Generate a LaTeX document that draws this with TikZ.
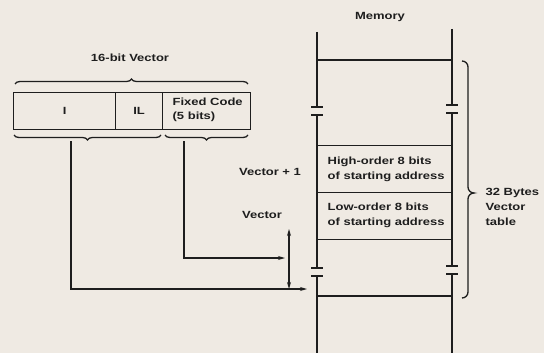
\documentclass[tikz,border=0pt]{standalone}
\usepackage{fontspec}
\setmainfont[FakeStretch=1.25]{Liberation Sans}
\usetikzlibrary{decorations.pathreplacing,arrows.meta}
\definecolor{bg}{HTML}{EFEAE3}
\definecolor{ink}{HTML}{1E1E1E}
\begin{document}
\begin{tikzpicture}[x=1pt,y=-1pt,line width=1.3pt,draw=ink,text=ink,
  font=\fontsize{10.4}{15}\selectfont\bfseries,
  field/.style={draw,rectangle,minimum height=37pt,inner sep=0pt,anchor=north west},
  cell/.style={draw,rectangle,minimum width=135pt,minimum height=47pt,inner sep=0pt,anchor=north west},
  celltext/.style={inner sep=0pt,align=left,anchor=west},
  lbl/.style={inner sep=0pt},
  brc/.style={decorate,decoration={brace,amplitude=5pt}},
  arr/.style={-{Stealth[length=7pt,width=4pt]}}]
\fill[bg] (0,0) rectangle (544,353);
\useasboundingbox (0,0) rectangle (544,353);

% vector fields
\node[field,minimum width=102pt] (fI) at (13,92) {};
\node[lbl] (tI0) at (fI.center) {I};
\node[field,minimum width=47pt] (fIL) at (115,92) {};
\node[lbl] (tIL) at (fIL.center) {IL};
\node[field,minimum width=88pt] (fFC) at (162,92) {};
\node[celltext,font=\fontsize{10.4}{14}\selectfont\bfseries] (tFC0) at (172,110) {Fixed Code\\(5 bits)};
\node[lbl] (title) at (130,58) {16-bit Vector};

% braces
\draw[brc] (15,84) -- (248,84);
\draw[brc] (161,135) -- (14,135);
\draw[brc] (248,135) -- (165,135);
\coordinate (tI) at (71,141);
\coordinate (tFC) at (184,141);

% memory walls
\draw (317,32) -- (317,107) (311,107) -- (323,107) (311,115) -- (323,115)
      (317,115) -- (317,268) (311,268) -- (323,268) (311,276) -- (323,276) (317,276) -- (317,353);
\draw (452,29) -- (452,105) (446,105) -- (458,105) (446,113) -- (458,113)
      (452,113) -- (452,266) (446,266) -- (458,266) (446,274) -- (458,274) (452,274) -- (452,353);
\draw (317,60) -- (452,60);
\draw (317,296) -- (452,296);
\node[cell] (hi) at (317,145) {};
\node[cell] (lo) at (317,192) {};
\node[celltext] (hit) at (327,169.5) {High-order 8 bits\\of starting address};
\node[celltext] (lot) at (327,215.5) {Low-order 8 bits\\of starting address};
\node[lbl] (mem) at (380,17) {Memory};

% right brace
\draw (462,61) to[out=0,in=90] (468,67) -- (468,187) to[out=-90,in=180] (474,193)
      to[out=180,in=90] (468,199) -- (468,292) to[out=-90,in=0] (462,298);
\node[celltext] (tbl) at (485,207) {32 Bytes\\Vector\\table};

% labels
\node[lbl] (v1) at (270,172) {Vector + 1};
\node[lbl] (v0) at (262,215) {Vector};

% connectors
\coordinate (eA) at (307,289);
\coordinate (eB) at (285,258);
\draw[arr] (tI) |- (eA);
\draw[arr] (tFC) |- (eB);
\coordinate (dTop) at (289,229);
\coordinate (dBot) at (289,289);
\draw[{Stealth[length=7pt,width=4pt]}-{Stealth[length=7pt,width=4pt]}] (dTop) -- (dBot);
\end{tikzpicture}
\end{document}
